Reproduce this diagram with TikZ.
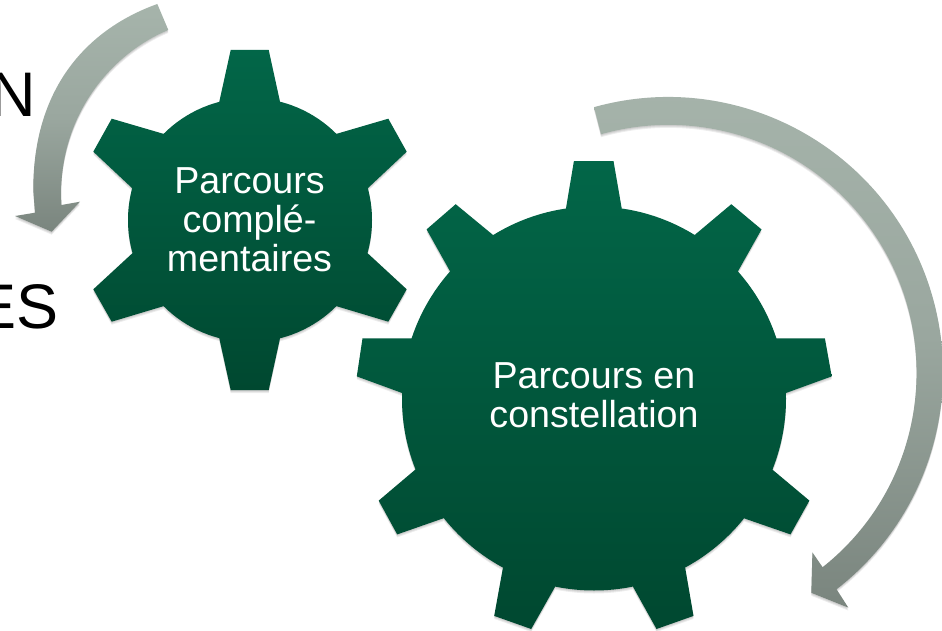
\documentclass[tikz,border=0pt]{standalone}
\usepackage{fontspec}
\setmainfont{Liberation Sans}
\usetikzlibrary{calc}
\definecolor{geartop}{RGB}{2,102,72}
\definecolor{gearbot}{RGB}{0,72,48}
\definecolor{arrtop}{RGB}{166,180,171}
\definecolor{arrmid}{RGB}{154,167,159}
\definecolor{arrbot}{RGB}{122,133,126}
\tikzset{
  x=1pt,y=1pt,
  geartext/.style={text=white,align=center,inner sep=0pt,font=\fontsize{37.6}{39}\selectfont},
  bigtext/.style={text=black,inner sep=0pt,font=\fontsize{63}{70}\selectfont},
  gearfill/.style={top color=geartop,bottom color=gearbot,draw=none},
  arrowfill/.style={top color=arrtop,bottom color=arrbot,middle color=arrmid,draw=none},
  softshadow/.style={fill=black,opacity=0.07,draw=none}
}
\newcommand{\smallgearpath}{
  (250,-220) ++(122,0) arc[start angle=0,delta angle=-360,radius=122] -- cycle
  (219.3,-101.7) -- (230.7,-50) -- (268.7,-50) -- (280,-101.7) -- (250,-220) -- cycle
  (336,-134) -- (388.3,-118.7) -- (406.7,-151.7) -- (367.7,-188.3) -- (250,-220) -- cycle
  (367.7,-253.3) -- (406.7,-289.3) -- (388.3,-321.7) -- (336,-306) -- (250,-220) -- cycle
  (280,-338.3) -- (268.7,-390) -- (230.7,-390) -- (219.3,-338.3) -- (250,-220) -- cycle
  (164,-306) -- (111.7,-321.7) -- (93.3,-289.3) -- (132.3,-253.3) -- (250,-220) -- cycle
  (132.3,-188.3) -- (93.3,-151.7) -- (111.7,-118.7) -- (164,-134) -- (250,-220) -- cycle
}
\newcommand{\biggearpath}{
  (594,-398.5) ++(192,0) arc[start angle=0,delta angle=-360,radius=192] -- cycle
  (565.9,-209) -- (573.9,-161.1) -- (613.5,-161.1) -- (621.8,-209) -- (594,-398.5) -- cycle
  (694.3,-235.3) -- (731.3,-204.2) -- (761.5,-229.4) -- (738,-271.2) -- (594,-398.5) -- cycle
  (775.8,-338.4) -- (824.9,-338.4) -- (831.7,-376.4) -- (786,-393) -- (594,-398.5) -- cycle
  (772.4,-469.6) -- (809.4,-500.6) -- (790.5,-534.4) -- (743.7,-518.2) -- (594,-398.5) -- cycle
  (685.2,-567.9) -- (693.5,-615.9) -- (656.5,-629) -- (633.1,-586.9) -- (594,-398.5) -- cycle
  (555,-586.9) -- (531.2,-629) -- (494.2,-615.9) -- (502.9,-567.9) -- (594,-398.5) -- cycle
  (443.6,-518.2) -- (397.2,-534.4) -- (378.7,-500.6) -- (415.3,-469.6) -- (594,-398.5) -- cycle
  (402.1,-393) -- (356.8,-376.4) -- (362.5,-338.4) -- (412.3,-338.4) -- (594,-398.5) -- cycle
  (450,-271.2) -- (426.6,-229.4) -- (455.7,-204.2) -- (493.4,-235.3) -- (594,-398.5) -- cycle
}
\newcommand{\smallarrowpath}{
  (157.3,-4) .. controls (85,-30) and (33,-90) .. (33.3,-190)
  -- (35,-212.7) -- (15,-216) -- (51.7,-231.7) -- (80,-201.7) -- (61.5,-205) -- (61,-195)
  .. controls (61,-110) and (115,-52) .. (168.3,-30) -- cycle
}
\newcommand{\bigarrowpath}{
  (668,-372) ++(105.6:275) arc[start angle=105.6,end angle=-52.2,radius=275]
  -- (848.3,-607.6) -- (811.3,-592.8) -- (812.4,-552.4) -- (822.6,-567.2)
  arc[start angle=-51.6,end angle=105.8,radius=248] -- cycle
}
\begin{document}
\begin{tikzpicture}
\useasboundingbox (0,0) rectangle (942,-631);
\clip (0,0) rectangle (942,-631);
\fill[white] (0,0) rectangle (942,-631);
\node[bigtext,anchor=base east] (tn) at (36,-117) {N};
\node[bigtext,anchor=base east] (tes) at (59,-328) {ES};
\foreach \d in {1,2,3}{
  \fill[softshadow,yshift=-\d pt] \smallarrowpath;
  \fill[softshadow,yshift=-\d pt] \bigarrowpath;
  \fill[softshadow,yshift=-\d pt] \smallgearpath;
  \fill[softshadow,yshift=-\d pt] \biggearpath;
}
\shade[arrowfill] \smallarrowpath;
\shade[arrowfill] \bigarrowpath;
\shade[gearfill] \smallgearpath;
\shade[gearfill] \biggearpath;
\node[geartext] (g1) at (249.5,-220) {Parcours\\complé-\\mentaires};
\node[geartext] (g2) at (594,-395) {Parcours en\\constellation};
\end{tikzpicture}
\end{document}
